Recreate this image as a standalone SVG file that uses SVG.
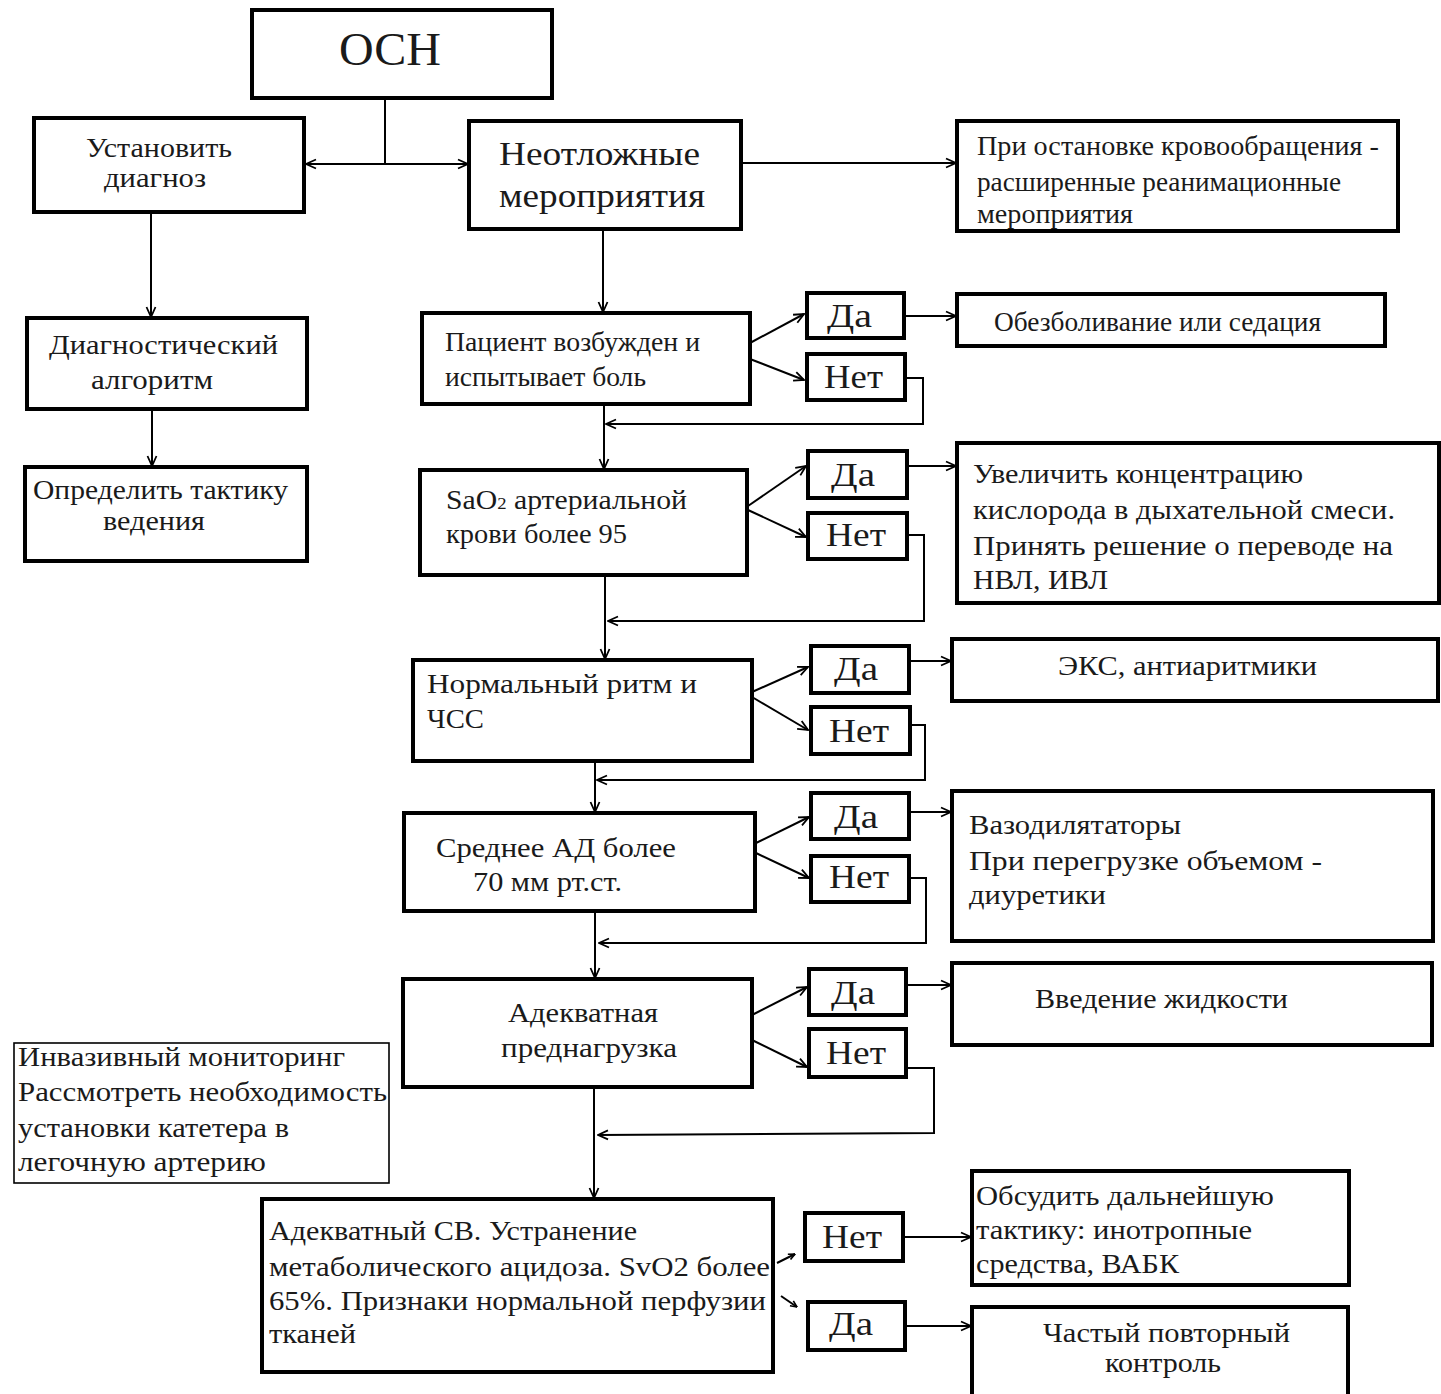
<svg xmlns="http://www.w3.org/2000/svg" width="1441" height="1394" viewBox="0 0 1441 1394">
  <style>
    .box { fill: #ffffff; stroke: #000000; stroke-width: 4; }
    .thin { fill: #ffffff; stroke: #000000; stroke-width: 1.6; }
    .t { font-family: "Liberation Serif", "Times New Roman", serif; font-size: 27px; fill: #1a1a1a; }
    .yn { font-size: 34px; }
    .big { font-size: 34px; }
    .title { font-size: 46px; }
    .c { fill: none; stroke: #000000; stroke-width: 2; }
    .a { marker-end: url(#ah); }
    .s { marker-end: url(#ahs); }
  </style>
  <defs>
    <marker id="ah" viewBox="0 0 12 12" refX="11" refY="6" markerWidth="12" markerHeight="12" markerUnits="userSpaceOnUse" orient="auto-start-reverse">
      <path d="M1,1.5 L11,6 L1,10.5" fill="none" stroke="#000" stroke-width="1.8"/>
    </marker>
    <marker id="ahs" viewBox="0 0 8 8" refX="7.5" refY="4" markerWidth="8" markerHeight="8" markerUnits="userSpaceOnUse" orient="auto">
      <path d="M1,1 L7.5,4 L1,7" fill="none" stroke="#000" stroke-width="1.6"/>
    </marker>
  </defs>
  <rect width="1441" height="1394" fill="#ffffff"/>

  <!-- connectors -->
  <g id="connectors">
    <line class="c" x1="385" y1="98" x2="385" y2="164"/>
    <line class="c" x1="306" y1="164" x2="468" y2="164" marker-start="url(#ah)" marker-end="url(#ah)"/>
    <line class="c a" x1="741" y1="163" x2="956" y2="163"/>
    <line class="c a" x1="151" y1="212" x2="151" y2="317"/>
    <line class="c a" x1="152" y1="409" x2="152" y2="466"/>
    <line class="c a" x1="603" y1="230" x2="603" y2="312"/>

    <line class="c a" x1="750" y1="343" x2="804" y2="314"/>
    <line class="c a" x1="750" y1="359" x2="804" y2="380"/>
    <line class="c a" x1="904" y1="316" x2="956" y2="316"/>
    <polyline class="c a" points="905,378 923,378 923,424 606,424"/>
    <line class="c a" x1="604" y1="405" x2="604" y2="469"/>

    <line class="c a" x1="748" y1="506" x2="806" y2="466"/>
    <line class="c a" x1="748" y1="510" x2="806" y2="537"/>
    <line class="c a" x1="907" y1="466" x2="956" y2="466"/>
    <polyline class="c a" points="907,535 924,535 924,621 608,621"/>
    <line class="c a" x1="605" y1="576" x2="605" y2="659"/>

    <line class="c a" x1="752" y1="692" x2="808" y2="667"/>
    <line class="c a" x1="752" y1="697" x2="808" y2="730"/>
    <line class="c a" x1="909" y1="661" x2="951" y2="661"/>
    <polyline class="c a" points="910,725 925,725 925,780 597,780"/>
    <line class="c a" x1="595" y1="762" x2="595" y2="812"/>

    <line class="c a" x1="756" y1="843" x2="809" y2="817"/>
    <line class="c a" x1="756" y1="853" x2="809" y2="878"/>
    <line class="c a" x1="909" y1="812" x2="951" y2="812"/>
    <polyline class="c a" points="909,878 926,878 926,943 599,943"/>
    <line class="c a" x1="595" y1="912" x2="595" y2="978"/>

    <line class="c a" x1="752" y1="1015" x2="807" y2="987"/>
    <line class="c a" x1="752" y1="1040" x2="807" y2="1067"/>
    <line class="c a" x1="906" y1="985" x2="951" y2="985"/>
    <polyline class="c a" points="906,1068 934,1068 934,1133 598,1135"/>
    <line class="c a" x1="594" y1="1088" x2="594" y2="1198"/>

    <line class="c s" x1="777" y1="1263" x2="795" y2="1254"/>
    <line class="c s" x1="781" y1="1296" x2="797" y2="1307"/>
    <line class="c a" x1="903" y1="1237" x2="971" y2="1237"/>
    <line class="c a" x1="905" y1="1326" x2="971" y2="1326"/>
  </g>

  <!-- nodes -->
  <g id="osn">
    <rect class="box" x="252" y="10" width="300" height="88"/>
    <text class="t title" x="339" y="65" textLength="102" lengthAdjust="spacingAndGlyphs">ОСН</text>
  </g>
  <g id="ustanovit">
    <rect class="box" x="34" y="118" width="270" height="94"/>
    <text class="t" x="86" y="157" textLength="146" lengthAdjust="spacingAndGlyphs">Установить</text>
    <text class="t" x="104" y="187" textLength="102" lengthAdjust="spacingAndGlyphs">диагноз</text>
  </g>
  <g id="neotlozhnye">
    <rect class="box" x="469" y="121" width="272" height="108"/>
    <text class="t big" x="499" y="165" textLength="201" lengthAdjust="spacingAndGlyphs">Неотложные</text>
    <text class="t big" x="499" y="207" textLength="206" lengthAdjust="spacingAndGlyphs">мероприятия</text>
  </g>
  <g id="pri-ostanovke">
    <rect class="box" x="957" y="121" width="441" height="110"/>
    <text class="t" x="977" y="155" textLength="402" lengthAdjust="spacingAndGlyphs">При остановке кровообращения -</text>
    <text class="t" x="977" y="191" textLength="364" lengthAdjust="spacingAndGlyphs">расширенные реанимационные</text>
    <text class="t" x="977" y="223" textLength="156" lengthAdjust="spacingAndGlyphs">мероприятия</text>
  </g>
  <g id="diag-algoritm">
    <rect class="box" x="27" y="318" width="280" height="91"/>
    <text class="t" x="49" y="354" textLength="229" lengthAdjust="spacingAndGlyphs">Диагностический</text>
    <text class="t" x="91" y="389" textLength="122" lengthAdjust="spacingAndGlyphs">алгоритм</text>
  </g>
  <g id="opredelit">
    <rect class="box" x="25" y="467" width="282" height="94"/>
    <text class="t" x="33" y="499" textLength="255" lengthAdjust="spacingAndGlyphs">Определить тактику</text>
    <text class="t" x="103" y="530" textLength="102" lengthAdjust="spacingAndGlyphs">ведения</text>
  </g>

  <g id="pacient">
    <rect class="box" x="422" y="313" width="328" height="91"/>
    <text class="t" x="445" y="351" textLength="255" lengthAdjust="spacingAndGlyphs">Пациент возбужден и</text>
    <text class="t" x="445" y="386" textLength="201" lengthAdjust="spacingAndGlyphs">испытывает боль</text>
  </g>
  <g id="da-1">
    <rect class="box" x="807" y="293" width="97" height="45"/>
    <text class="t yn" x="827" y="327" textLength="45" lengthAdjust="spacingAndGlyphs">Да</text>
  </g>
  <g id="net-1">
    <rect class="box" x="807" y="354" width="98" height="46"/>
    <text class="t yn" x="824" y="388" textLength="59" lengthAdjust="spacingAndGlyphs">Нет</text>
  </g>
  <g id="obezbolivanie">
    <rect class="box" x="957" y="294" width="428" height="52"/>
    <text class="t" x="994" y="331" textLength="327" lengthAdjust="spacingAndGlyphs">Обезболивание или седация</text>
  </g>

  <g id="sao2">
    <rect class="box" x="420" y="470" width="327" height="105"/>
    <text class="t" x="446" y="509" textLength="241" lengthAdjust="spacingAndGlyphs">SaO<tspan font-size="17">2</tspan> артериальной</text>
    <text class="t" x="446" y="543" textLength="181" lengthAdjust="spacingAndGlyphs">крови более 95</text>
  </g>
  <g id="da-2">
    <rect class="box" x="808" y="451" width="99" height="47"/>
    <text class="t yn" x="831" y="486" textLength="44" lengthAdjust="spacingAndGlyphs">Да</text>
  </g>
  <g id="net-2">
    <rect class="box" x="808" y="513" width="99" height="46"/>
    <text class="t yn" x="826" y="546" textLength="60" lengthAdjust="spacingAndGlyphs">Нет</text>
  </g>
  <g id="uvelichit">
    <rect class="box" x="957" y="443" width="482" height="160"/>
    <text class="t" x="973" y="483" textLength="330" lengthAdjust="spacingAndGlyphs">Увеличить концентрацию</text>
    <text class="t" x="973" y="519" textLength="422" lengthAdjust="spacingAndGlyphs">кислорода в дыхательной смеси.</text>
    <text class="t" x="973" y="555" textLength="420" lengthAdjust="spacingAndGlyphs">Принять решение о переводе на</text>
    <text class="t" x="973" y="589" textLength="135" lengthAdjust="spacingAndGlyphs">НВЛ, ИВЛ</text>
  </g>

  <g id="normalnyj-ritm">
    <rect class="box" x="413" y="660" width="339" height="101"/>
    <text class="t" x="427" y="693" textLength="270" lengthAdjust="spacingAndGlyphs">Нормальный ритм и</text>
    <text class="t" x="427" y="728" textLength="57" lengthAdjust="spacingAndGlyphs">ЧСС</text>
  </g>
  <g id="da-3">
    <rect class="box" x="811" y="646" width="98" height="47"/>
    <text class="t yn" x="834" y="680" textLength="44" lengthAdjust="spacingAndGlyphs">Да</text>
  </g>
  <g id="net-3">
    <rect class="box" x="811" y="707" width="99" height="47"/>
    <text class="t yn" x="829" y="742" textLength="60" lengthAdjust="spacingAndGlyphs">Нет</text>
  </g>
  <g id="eks">
    <rect class="box" x="952" y="639" width="486" height="62"/>
    <text class="t" x="1058" y="675" textLength="259" lengthAdjust="spacingAndGlyphs">ЭКС, антиаритмики</text>
  </g>

  <g id="srednee-ad">
    <rect class="box" x="404" y="813" width="351" height="98"/>
    <text class="t" x="436" y="857" textLength="240" lengthAdjust="spacingAndGlyphs">Среднее АД более</text>
    <text class="t" x="473" y="891" textLength="149" lengthAdjust="spacingAndGlyphs">70 мм рт.ст.</text>
  </g>
  <g id="da-4">
    <rect class="box" x="811" y="793" width="98" height="46"/>
    <text class="t yn" x="834" y="828" textLength="44" lengthAdjust="spacingAndGlyphs">Да</text>
  </g>
  <g id="net-4">
    <rect class="box" x="811" y="856" width="98" height="46"/>
    <text class="t yn" x="829" y="888" textLength="60" lengthAdjust="spacingAndGlyphs">Нет</text>
  </g>
  <g id="vazodilyatatory">
    <rect class="box" x="952" y="791" width="481" height="150"/>
    <text class="t" x="969" y="834" textLength="212" lengthAdjust="spacingAndGlyphs">Вазодилятаторы</text>
    <text class="t" x="969" y="870" textLength="353" lengthAdjust="spacingAndGlyphs">При перегрузке объемом -</text>
    <text class="t" x="969" y="904" textLength="137" lengthAdjust="spacingAndGlyphs">диуретики</text>
  </g>

  <g id="adekvatnaya-prednagruzka">
    <rect class="box" x="403" y="979" width="349" height="108"/>
    <text class="t" x="508" y="1022" textLength="150" lengthAdjust="spacingAndGlyphs">Адекватная</text>
    <text class="t" x="501" y="1057" textLength="176" lengthAdjust="spacingAndGlyphs">преднагрузка</text>
  </g>
  <g id="da-5">
    <rect class="box" x="809" y="969" width="97" height="46"/>
    <text class="t yn" x="831" y="1004" textLength="44" lengthAdjust="spacingAndGlyphs">Да</text>
  </g>
  <g id="net-5">
    <rect class="box" x="809" y="1029" width="97" height="48"/>
    <text class="t yn" x="826" y="1064" textLength="60" lengthAdjust="spacingAndGlyphs">Нет</text>
  </g>
  <g id="vvedenie">
    <rect class="box" x="952" y="963" width="480" height="82"/>
    <text class="t" x="1035" y="1008" textLength="253" lengthAdjust="spacingAndGlyphs">Введение жидкости</text>
  </g>

  <g id="invazivnyj-monitoring">
    <rect class="thin" x="14" y="1043" width="375" height="140"/>
    <text class="t" x="18" y="1066" textLength="327" lengthAdjust="spacingAndGlyphs">Инвазивный мониторинг</text>
    <text class="t" x="18" y="1101" textLength="369" lengthAdjust="spacingAndGlyphs">Рассмотреть необходимость</text>
    <text class="t" x="18" y="1137" textLength="271" lengthAdjust="spacingAndGlyphs">установки катетера в</text>
    <text class="t" x="18" y="1171" textLength="248" lengthAdjust="spacingAndGlyphs">легочную артерию</text>
  </g>

  <g id="adekvatnyj-sv">
    <rect class="box" x="262" y="1199" width="511" height="173"/>
    <text class="t" x="269" y="1240" textLength="368" lengthAdjust="spacingAndGlyphs">Адекватный СВ. Устранение</text>
    <text class="t" x="269" y="1276" textLength="501" lengthAdjust="spacingAndGlyphs">метаболического ацидоза. SvO2 более</text>
    <text class="t" x="269" y="1310" textLength="497" lengthAdjust="spacingAndGlyphs">65%. Признаки нормальной перфузии</text>
    <text class="t" x="269" y="1343" textLength="87" lengthAdjust="spacingAndGlyphs">тканей</text>
  </g>
  <g id="net-6">
    <rect class="box" x="805" y="1213" width="98" height="48"/>
    <text class="t yn" x="822" y="1248" textLength="60" lengthAdjust="spacingAndGlyphs">Нет</text>
  </g>
  <g id="da-6">
    <rect class="box" x="808" y="1302" width="97" height="48"/>
    <text class="t yn" x="829" y="1335" textLength="44" lengthAdjust="spacingAndGlyphs">Да</text>
  </g>
  <g id="obsudit">
    <rect class="box" x="972" y="1171" width="377" height="114"/>
    <text class="t" x="976" y="1205" textLength="298" lengthAdjust="spacingAndGlyphs">Обсудить дальнейшую</text>
    <text class="t" x="976" y="1239" textLength="276" lengthAdjust="spacingAndGlyphs">тактику: инотропные</text>
    <text class="t" x="976" y="1273" textLength="203" lengthAdjust="spacingAndGlyphs">средства, ВАБК</text>
  </g>
  <g id="chastyj-kontrol">
    <rect class="box" x="972" y="1307" width="376" height="100"/>
    <text class="t" x="1043" y="1342" textLength="247" lengthAdjust="spacingAndGlyphs">Частый повторный</text>
    <text class="t" x="1105" y="1372" textLength="116" lengthAdjust="spacingAndGlyphs">контроль</text>
  </g>
</svg>
